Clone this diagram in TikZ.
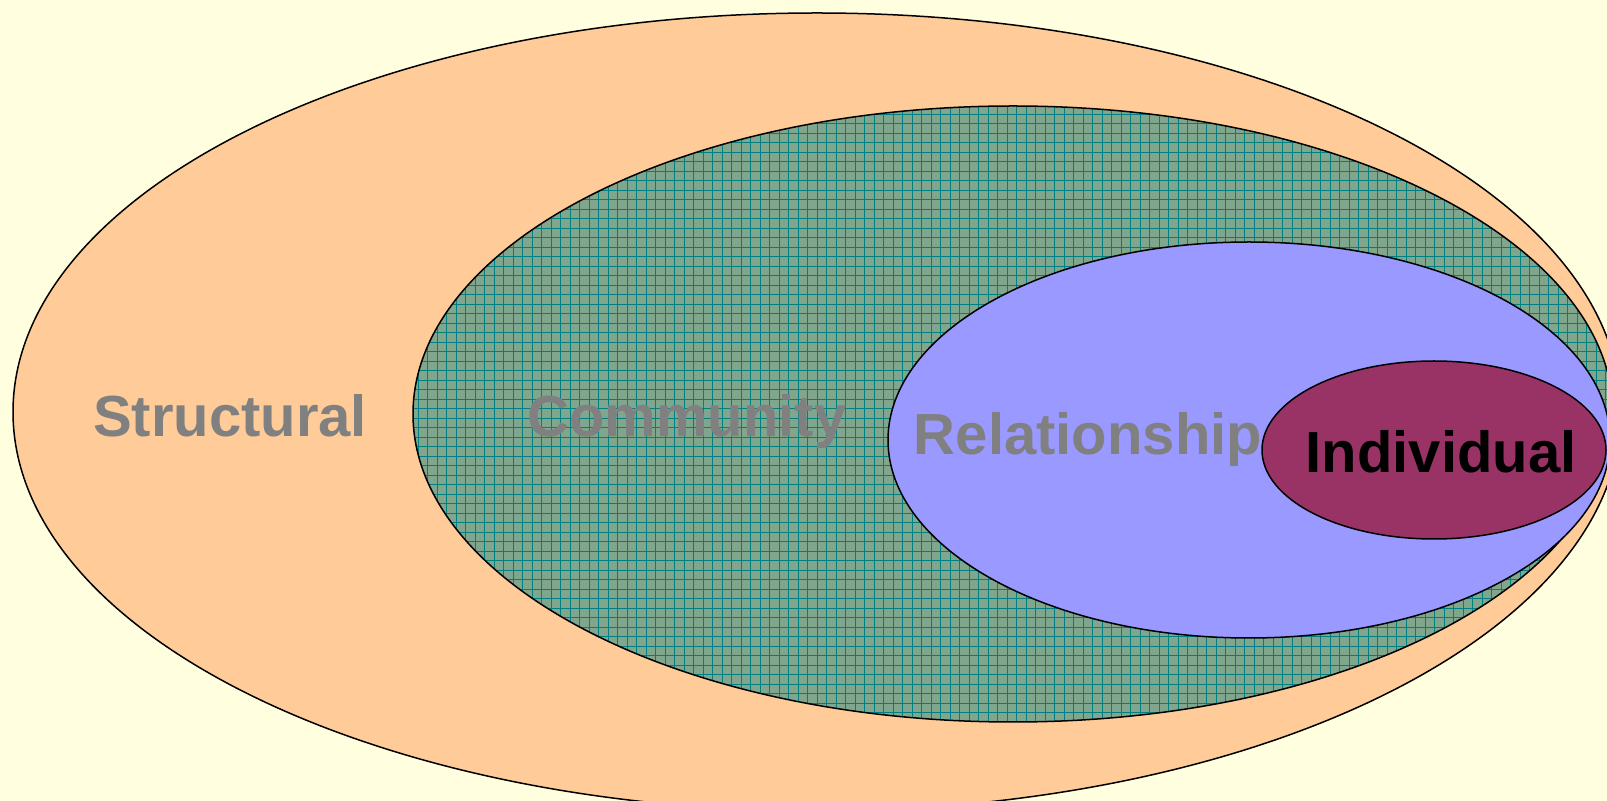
\documentclass[tikz,border=0pt]{standalone}
\usepackage{fontspec}
\setmainfont{Liberation Sans}
\usetikzlibrary{positioning}

\definecolor{bgyellow}{RGB}{255,255,224}
\definecolor{structfill}{RGB}{255,204,153}
\definecolor{commfill}{RGB}{128,166,142}
\definecolor{commgrid}{RGB}{0,128,128}
\definecolor{relfill}{RGB}{153,153,255}
\definecolor{indfill}{RGB}{153,51,102}
\definecolor{labelgrey}{RGB}{128,128,128}

\begin{document}
\begin{tikzpicture}[
                x=0.5pt, y=-0.5pt,
                ring/.style={draw=black, line width=0.75pt},
                lbl/.style={anchor=base, inner sep=0pt, font=\fontsize{29}{35}\selectfont\bfseries, text=labelgrey}
            ]
            % Background and frame
            \useasboundingbox (0,0) rectangle (1607,801);
            \fill[bgyellow] (0,0) rectangle (1607,801);
            \clip (0,0) rectangle (1607,801);

            % Rings (outer to inner)
            \path[ring, fill=structfill] (817,412) ellipse [x radius=804, y radius=399];
            \begin{scope}
                \clip (1013,414) ellipse [x radius=600, y radius=308];
                \fill[commfill] (413,106) rectangle (1613,722);
                \draw[commgrid, line width=0.4pt, step=4.75pt] (400,100) grid (1620,730);
            \end{scope}
            \path[ring] (1013,414) ellipse [x radius=600, y radius=308];
            \path[ring, fill=relfill] (1249,440) ellipse [x radius=361, y radius=198];
            \path[ring, fill=indfill] (1434,450) ellipse [x radius=172, y radius=89];

            % Labels
            \node[lbl] (structural) at (230,437) {Structural};
            \node[lbl] (community) at (687,437) {Community};
            \node[lbl] (relationship) at (1088,455) {Relationship};
            \node[lbl, text=black] (individual) at (1441,473) {Individual};
\end{tikzpicture}
\end{document}
